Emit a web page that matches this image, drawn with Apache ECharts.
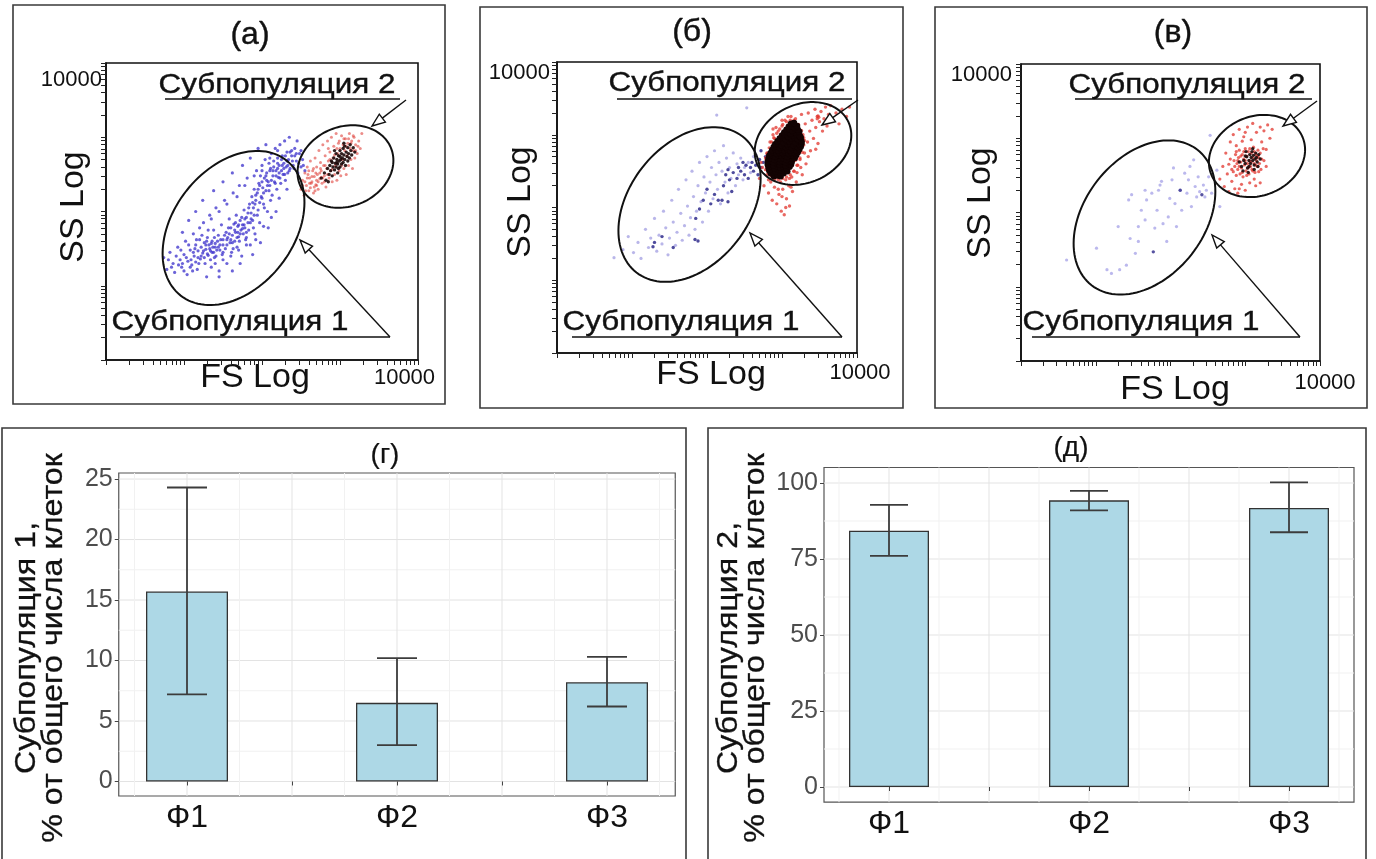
<!DOCTYPE html>
<html>
<head>
<meta charset="utf-8">
<title>Субпопуляции клеток</title>
<script src="https://cdn.jsdelivr.net/npm/echarts@6/dist/echarts.min.js"></script>
<style>
  html, body { margin: 0; padding: 0; background: #fff; }
  #chart { width: 1376px; height: 859px; }
</style>
</head>
<body>
<div id="chart"></div>
<script>
// ---------- Flow cytometry dot plots: log10(FS) vs log10(SS), four decades ----------
const scatterTitles = ['(а)', '(б)', '(в)'];
const decadeTopLabel = '10000';
const gateNames = ['Субпопуляция 1', 'Субпопуляция 2'];

// (а) events
const blueA = [
[0.74,1.38],[0.78,1.22],[0.82,1.45],[0.86,1.30],[0.88,1.18],[0.92,1.52],[0.95,1.35],[0.97,1.25],[1.00,1.42],[1.02,1.60],
[1.04,1.15],[1.05,1.33],[1.08,1.48],[1.10,1.28],[1.12,1.70],[1.13,1.40],[1.15,1.55],[1.17,1.22],[1.18,1.47],[1.20,1.62],
[1.21,1.36],[1.22,1.52],[1.24,1.44],[1.25,1.85],[1.26,1.58],[1.27,1.30],[1.28,1.49],[1.29,1.12],[1.30,1.65],[1.31,1.41],
[1.32,1.55],[1.33,1.95],[1.34,1.47],[1.35,1.25],[1.36,1.60],[1.37,1.52],[1.38,1.75],[1.39,1.38],[1.40,1.57],[1.41,2.05],
[1.42,1.48],[1.44,1.68],[1.45,1.20],[1.46,1.55],[1.48,1.82],[1.49,1.42],[1.50,1.62],[1.52,2.15],[1.53,1.50],[1.54,1.72],
[1.55,1.30],[1.56,1.65],[1.58,1.90],[1.59,1.58],[1.60,1.78],[1.61,1.45],[1.62,1.68],[1.63,2.25],[1.64,1.83],[1.65,1.60],
[1.66,1.72],[1.67,1.95],[1.68,1.52],[1.69,1.80],[1.70,1.66],[1.71,2.35],[1.72,1.88],[1.73,1.75],[1.74,1.40],[1.75,1.82],
[1.76,1.70],[1.77,2.02],[1.78,1.78],[1.79,1.62],[1.80,1.92],[1.81,2.45],[1.82,1.85],[1.83,1.75],[1.84,2.10],[1.85,1.55],
[1.86,1.98],[1.87,2.20],[1.88,1.88],[1.89,2.05],[1.90,2.30],[1.91,1.70],[1.92,2.15],[1.93,2.55],[1.94,2.25],[1.95,2.02],
[1.96,2.38],[1.97,1.85],[1.98,2.48],[1.99,2.20],[2.00,2.62],[2.01,2.32],[2.02,2.10],[2.03,2.45],[2.04,2.70],[2.05,2.28],
[2.06,2.52],[2.07,2.00],[2.08,2.40],[2.09,2.65],[2.10,2.35],[2.11,2.58],[2.12,2.78],[2.13,2.22],[2.14,2.48],[2.15,2.68],
[2.16,2.40],[2.17,2.85],[2.18,2.55],[2.19,2.30],[2.20,2.72],[2.21,2.46],[2.22,2.62],[2.23,2.90],[2.24,2.38],[2.25,2.55],
[2.26,2.75],[2.27,2.50],[2.28,2.65],[2.29,2.95],[2.30,2.42],[2.31,2.60],[2.32,2.80],[2.33,2.52],[2.34,2.70],[2.36,2.58],
[2.38,2.75],[2.40,2.62],[2.42,2.85],[2.44,2.68],[2.46,2.52],[2.48,2.78],[2.50,2.60],[2.52,2.70],[2.45,2.95],[2.35,3.00],
[2.55,2.55],[1.45,1.12],[1.62,1.20],[1.72,1.30],[1.88,1.42],[1.98,1.58],[2.08,1.78],[2.18,2.00],[0.98,1.72],[1.06,1.88],
[1.15,2.00],[1.24,2.15],[1.38,2.28],[1.50,2.40],[1.62,2.52],[1.75,2.62],[1.85,2.72],[1.95,2.85],[2.05,2.90],
[1.22,1.40],[1.25,1.47],[1.28,1.55],[1.30,1.43],[1.33,1.50],[1.35,1.57],[1.38,1.45],[1.40,1.52],[1.43,1.60],[1.46,1.48],
[1.50,1.55],[1.55,1.62],[1.58,1.70],[1.62,1.58],[1.65,1.75],[1.68,1.65],[1.70,1.82],[1.72,1.70],[1.75,1.77],[1.78,1.90],
[1.80,1.72],[1.82,1.98],[1.85,1.85],[1.88,2.12],[1.90,1.95],[1.92,2.22],[1.95,2.30],[1.97,2.12],[2.00,2.40],[2.02,2.25],
[2.05,2.48],[2.07,2.35],[2.10,2.55],[2.12,2.42],[2.15,2.60],[2.18,2.48],[2.20,2.65],[2.22,2.52],[2.25,2.70],[2.28,2.58],
[2.30,2.75],[2.33,2.62],[2.36,2.80],[2.39,2.68],[2.42,2.75],[1.15,1.32],[1.18,1.38],[1.08,1.25],[1.12,1.45],[0.98,1.30],
[0.80,1.35],[0.84,1.25],[0.90,1.40],[0.93,1.28],[0.96,1.48],[1.00,1.20],[1.03,1.38],[1.06,1.55],[1.09,1.35],[1.11,1.20],
[1.14,1.50],[1.16,1.62],[1.19,1.30],[1.23,1.68],[1.26,1.38],[1.29,1.60],[1.31,1.75],[1.34,1.35],[1.36,1.45],[1.39,1.65],
[1.41,1.40],[1.44,1.52],[1.47,1.62],[1.50,1.45],[1.52,1.68],[1.55,1.55],[1.57,1.78],[1.60,1.62],[1.63,1.50],[1.66,1.85],
[1.69,1.72],[1.71,1.60],[1.74,1.92],[1.77,1.82],[1.80,1.65],[1.83,2.05],[1.86,1.90],[1.89,1.78],[1.91,2.10],[1.94,1.95],
[1.97,2.35],[2.00,2.18],[2.03,2.05],[2.06,2.42],[2.09,2.28],[2.11,2.15],[2.14,2.55],[2.17,2.38],[2.20,2.58],[2.23,2.45],
[2.26,2.62],[2.29,2.50],[2.32,2.68],[2.35,2.55],[2.38,2.82],[2.41,2.58],[2.44,2.78],[2.47,2.65],[2.50,2.82],[2.53,2.62],
[1.20,1.78],[1.35,1.90],[1.45,2.00],[1.55,2.10],[1.68,2.20],[1.78,2.35],[1.90,2.48],[2.00,2.55],[2.10,2.72],[2.20,2.82],
[1.40,1.30],[1.50,1.35],[1.60,1.40],[1.70,1.48],[1.80,1.55],[1.92,1.62],[2.02,1.80],[2.12,1.92],[2.22,2.18],[2.32,2.30]
];
const redA = [
[2.50,2.30],[2.52,2.42],[2.54,2.22],[2.55,2.52],[2.57,2.35],[2.58,2.60],[2.60,2.28],[2.61,2.45],[2.62,2.68],[2.63,2.38],
[2.65,2.55],[2.66,2.25],[2.67,2.47],[2.68,2.72],[2.69,2.36],[2.70,2.60],[2.71,2.50],[2.72,2.30],[2.73,2.82],[2.74,2.44],
[2.75,2.66],[2.76,2.55],[2.77,2.38],[2.78,2.90],[2.79,2.62],[2.80,2.48],[2.81,2.75],[2.82,2.33],[2.83,2.58],[2.84,2.95],
[2.85,2.68],[2.86,2.45],[2.87,2.80],[2.88,2.55],[2.89,3.00],[2.90,2.40],[2.91,2.72],[2.92,2.88],[2.93,2.50],[2.94,2.62],
[2.95,3.05],[2.96,2.42],[2.97,2.78],[2.98,2.92],[2.99,2.55],[3.00,2.85],[3.01,2.48],[3.02,3.02],[3.03,2.70],[3.04,2.90],
[3.05,2.58],[3.06,2.82],[3.07,2.98],[3.08,2.50],[3.09,2.75],[3.10,2.92],[3.11,2.62],[3.12,3.05],[3.13,2.85],[3.14,2.70],
[3.15,2.95],[3.16,2.58],[3.17,2.82],[3.18,3.00],[3.19,2.72],[3.20,2.90],[3.22,2.78],[3.24,2.95],[3.26,2.85],[3.28,3.05],
[2.58,2.45],[2.64,2.40],[2.70,2.42],[2.66,2.58],[2.74,2.52],[2.62,2.32],[2.68,2.28],[2.76,2.46],
[2.52,2.35],[2.56,2.28],[2.59,2.50],[2.61,2.38],[2.64,2.47],[2.67,2.33],[2.69,2.52],[2.72,2.40],[2.75,2.58],[2.78,2.45],
[2.81,2.62],[2.84,2.50],[2.87,2.70],[2.90,2.57],[2.93,2.76],[2.96,2.85],[2.99,2.95],[3.02,2.62],[3.05,2.98],[3.08,2.88],
[3.11,2.98],[3.14,2.92],[3.17,3.02],[3.20,2.82],[3.23,2.88],[2.55,2.40],[2.60,2.55],[2.70,2.35],[2.80,2.40],[2.85,2.85]
];
const blackA = [
[2.76,2.45],[2.80,2.52],[2.82,2.42],[2.84,2.58],[2.86,2.50],[2.87,2.62],[2.88,2.55],[2.89,2.68],[2.90,2.48],[2.91,2.60],
[2.92,2.72],[2.93,2.56],[2.94,2.65],[2.95,2.78],[2.95,2.60],[2.96,2.70],[2.97,2.52],[2.97,2.64],[2.98,2.75],[2.99,2.68],
[3.00,2.60],[3.00,2.82],[3.01,2.70],[3.02,2.64],[3.02,2.78],[3.03,2.72],[3.04,2.85],[3.04,2.66],[3.05,2.76],[3.06,2.70],
[3.06,2.88],[3.07,2.62],[3.08,2.80],[3.09,2.74],[3.10,2.68],[3.10,2.86],[3.11,2.78],[3.12,2.72],[3.13,2.90],[3.14,2.82],
[3.15,2.76],[3.17,2.86],[3.19,2.80],[2.85,2.40],[2.90,2.66],[2.98,2.58],[3.05,2.92],[2.93,2.82],[3.00,2.74],[2.96,2.66]
];

// (б) events
const paleB = [
[0.76,1.31],[0.88,1.42],[0.95,1.60],[1.02,1.38],[1.08,1.52],[1.12,1.30],[1.18,1.70],[1.22,1.45],[1.25,1.58],[1.30,1.85],
[1.33,1.40],[1.36,1.62],[1.40,1.50],[1.42,1.95],[1.45,1.72],[1.48,1.35],[1.50,1.58],[1.53,2.10],[1.55,1.80],[1.58,1.48],
[1.60,1.66],[1.62,2.25],[1.65,1.92],[1.67,1.55],[1.70,1.75],[1.72,2.38],[1.74,2.02],[1.76,1.62],[1.78,1.86],[1.80,2.50],
[1.82,2.15],[1.84,1.70],[1.86,1.95],[1.88,2.30],[1.90,2.62],[1.92,2.08],[1.94,1.80],[1.96,2.42],[1.98,2.20],[2.00,2.70],
[2.02,1.95],[2.04,2.35],[2.06,2.55],[2.08,2.12],[2.10,2.78],[2.12,2.45],[2.14,2.25],[2.16,2.62],[2.18,2.05],[2.20,2.50],
[2.22,2.85],[2.24,2.35],[2.26,2.68],[2.28,2.20],[2.30,2.55],[2.32,2.40],[2.35,2.75],[2.38,2.30],[2.40,2.60],[2.42,2.45],
[2.45,2.68],[2.48,2.38],[2.50,2.55],[2.55,2.62],[2.58,2.48],[2.62,2.70],[2.13,3.27],[2.53,3.37]
];
const darkB = [
[1.28,1.46],[1.40,1.60],[1.30,1.52],[1.55,1.45],[1.84,1.56],[1.88,1.54],[1.85,1.85],[1.90,1.98],[1.95,2.10],[2.00,2.25],
[2.05,2.05],[2.10,2.18],[2.15,2.10],[2.20,2.10],[2.28,2.08],[2.22,2.30],[2.25,2.45],[2.28,2.52],[2.30,2.38],[2.33,2.22],
[2.35,2.48],[2.40,2.40],[2.42,2.55],[2.45,2.50],[2.48,2.62],[2.50,2.45],[2.52,2.58],[2.55,2.40],[2.58,2.55],[2.60,2.62],
[2.62,2.50],[2.65,2.58],[2.68,2.45],[2.70,2.66],[2.72,2.55],[2.75,2.62],[2.78,2.70],[2.80,2.52],[2.82,2.75],[2.85,2.60],
[2.72,2.78],[2.65,2.72]
];
const redB = [
[2.70,2.40],[2.74,2.55],[2.76,2.30],[2.78,2.68],[2.80,2.45],[2.82,2.20],[2.83,2.60],[2.85,2.35],[2.86,2.80],[2.87,2.10],
[2.88,2.50],[2.90,2.95],[2.90,2.28],[2.92,2.65],[2.93,2.05],[2.94,2.42],[2.95,3.05],[2.96,2.18],[2.97,2.88],[2.98,2.35],
[2.99,1.95],[3.00,3.12],[3.01,2.25],[3.02,2.48],[3.03,1.90],[3.04,3.20],[3.05,2.38],[3.06,2.12],[3.08,3.25],[3.09,2.30],
[3.10,2.02],[3.12,3.15],[3.13,2.42],[3.14,2.22],[3.15,3.05],[3.16,2.50],[3.18,3.22],[3.19,2.35],[3.20,2.95],[3.21,2.58],
[3.22,3.10],[3.24,2.68],[3.25,2.85],[3.26,3.28],[3.27,2.45],[3.28,3.00],[3.30,2.75],[3.31,3.15],[3.32,2.60],[3.34,2.90],
[3.35,3.30],[3.37,3.05],[3.38,2.78],[3.40,3.20],[3.42,2.95],[3.44,3.35],[3.45,3.10],[3.47,3.25],[3.48,2.88],[3.50,3.18],
[3.52,3.32],[3.54,3.05],[3.56,3.22],[3.58,3.38],[3.60,3.12],[3.62,3.28],[3.65,3.40],[3.68,3.20],[3.72,3.30],[3.76,3.15],
[3.80,3.35],[3.86,3.25],[3.90,3.38],[2.72,2.62],[2.80,2.75],[2.84,2.90],[2.88,3.00],[2.92,3.10],[3.00,2.15],[3.05,2.00],
[2.95,2.25],[3.10,2.40],[3.20,2.48],[3.25,2.55],[3.35,2.70],[3.45,2.80],[2.78,2.52],[2.82,2.38],[2.86,2.58],[3.12,2.28],
[3.18,2.65],[3.30,2.92],[3.47,3.22],[3.49,3.24],[3.48,3.26],
[2.80,2.58],[2.79,2.66],[2.80,2.74],[2.83,2.82],[2.86,2.90],[2.89,2.96],[2.93,3.02],[2.97,3.08],[3.01,3.14],[3.06,3.18],
[3.11,3.20],[3.16,3.20],[3.22,3.14],[3.26,3.06],[3.29,2.96],[3.29,2.86],[3.27,2.76],[3.24,2.66],[3.20,2.58],[3.16,2.50],
[3.11,2.45],[3.06,2.42],[3.01,2.40],[2.95,2.38],[2.90,2.39],[2.85,2.44],[2.82,2.50],[3.12,3.25],[3.00,3.20],[2.88,3.08]
];
const blackB = [
[2.89,2.43],[2.94,2.44],[2.98,2.43],
[2.85,2.47],[2.89,2.48],[2.94,2.46],[2.98,2.48],[3.02,2.47],
[2.83,2.51],[2.87,2.52],[2.91,2.50],[2.95,2.52],[3.00,2.51],[3.04,2.52],[3.07,2.50],
[2.82,2.55],[2.86,2.56],[2.90,2.54],[2.94,2.56],[2.98,2.55],[3.02,2.56],[3.06,2.54],[3.10,2.56],
[2.81,2.59],[2.85,2.60],[2.89,2.58],[2.93,2.60],[2.97,2.59],[3.01,2.60],[3.05,2.58],[3.09,2.60],[3.12,2.59],
[2.81,2.63],[2.85,2.64],[2.89,2.62],[2.93,2.64],[2.97,2.63],[3.01,2.64],[3.05,2.62],[3.09,2.64],[3.13,2.63],
[2.82,2.67],[2.86,2.68],[2.90,2.66],[2.94,2.68],[2.98,2.67],[3.02,2.68],[3.06,2.66],[3.10,2.68],[3.14,2.67],[3.17,2.68],
[2.83,2.71],[2.87,2.72],[2.91,2.70],[2.95,2.72],[2.99,2.71],[3.03,2.72],[3.07,2.70],[3.11,2.72],[3.15,2.71],[3.19,2.72],
[2.85,2.75],[2.89,2.76],[2.93,2.74],[2.97,2.76],[3.01,2.75],[3.05,2.76],[3.09,2.74],[3.13,2.76],[3.17,2.75],[3.21,2.76],
[2.87,2.79],[2.91,2.80],[2.95,2.78],[2.99,2.80],[3.03,2.79],[3.07,2.80],[3.11,2.78],[3.15,2.80],[3.19,2.79],[3.23,2.80],
[2.89,2.83],[2.93,2.84],[2.97,2.82],[3.01,2.84],[3.05,2.83],[3.09,2.84],[3.13,2.82],[3.17,2.84],[3.21,2.83],[3.25,2.84],
[2.91,2.87],[2.95,2.88],[2.99,2.86],[3.03,2.88],[3.07,2.87],[3.11,2.88],[3.15,2.86],[3.19,2.88],[3.23,2.87],[3.26,2.88],
[2.94,2.91],[2.98,2.92],[3.02,2.90],[3.06,2.92],[3.10,2.91],[3.14,2.92],[3.18,2.90],[3.22,2.92],[3.26,2.91],
[2.97,2.95],[3.01,2.96],[3.05,2.94],[3.09,2.96],[3.13,2.95],[3.17,2.96],[3.21,2.94],[3.25,2.96],
[3.00,2.99],[3.04,3.00],[3.08,2.98],[3.12,3.00],[3.16,2.99],[3.20,3.00],[3.24,2.98],
[3.03,3.03],[3.07,3.04],[3.11,3.02],[3.15,3.04],[3.19,3.03],[3.23,3.04],
[3.06,3.07],[3.10,3.08],[3.14,3.06],[3.18,3.08],[3.21,3.07],
[3.09,3.11],[3.13,3.12],[3.17,3.10],[3.20,3.12],
[3.12,3.15],[3.16,3.16]
];

// (в) events
const paleC = [
[0.61,1.36],[1.01,1.52],[1.15,1.23],[1.21,1.18],[1.32,1.23],[1.41,1.29],[1.46,1.65],[1.53,1.45],[1.57,1.81],[1.66,1.90],
[1.68,2.17],[1.79,1.79],[1.82,2.03],[1.84,2.30],[1.86,2.37],[1.95,1.61],[1.97,1.94],[1.99,2.19],[2.02,2.44],[2.06,2.12],
[2.08,1.81],[2.13,2.30],[2.15,2.03],[2.19,2.53],[2.22,2.26],[2.24,2.44],[2.28,2.08],[2.31,2.71],[2.33,2.35],[2.35,2.21],
[2.37,2.48],[2.39,2.28],[2.44,2.37],[2.46,2.21],[2.48,2.30],[2.51,2.48],[2.53,3.04],[2.62,2.57],[2.66,2.08],[2.55,2.26],
[2.26,2.62],[2.04,2.60],[1.88,2.42],[1.44,2.17],[1.48,2.24],[1.61,2.03],[1.75,2.26],[1.90,1.85],[1.57,1.61],[1.30,1.81],
[1.66,2.30]
];
const darkC = [[1.77,1.47],[2.42,2.24],[2.13,2.30]];
const redC = [
[2.66,2.45],[2.70,2.62],[2.72,2.35],[2.74,2.80],[2.76,2.52],[2.78,2.28],[2.80,2.95],[2.82,2.42],[2.84,3.05],[2.86,2.32],
[2.88,2.90],[2.90,2.26],[2.92,3.12],[2.95,2.38],[2.98,3.02],[3.00,2.30],[3.03,3.15],[3.06,2.40],[3.08,2.98],[3.10,3.20],
[3.12,2.45],[3.15,3.08],[3.18,2.55],[3.20,3.15],[3.22,2.95],[3.25,3.10],[3.28,2.85],[3.30,3.18],[3.33,3.00],[3.36,3.12],
[2.78,2.65],[2.80,2.72],[2.82,2.58],[3.25,2.70],[3.28,2.62],[3.20,2.40],[2.92,2.32],[3.00,3.08],[3.14,2.36],[2.96,2.96],
[2.84,2.55],[2.85,2.70],[2.86,2.62],[2.87,2.78],[2.88,2.50],[2.89,2.66],[2.90,2.58],[2.91,2.74],[2.92,2.84],[2.93,2.52],
[2.94,2.68],[2.95,2.60],[2.96,2.78],[2.97,2.48],[2.98,2.72],[2.99,2.64],[3.00,2.86],[3.01,2.56],[3.02,2.76],[3.03,2.66],
[3.04,2.82],[3.05,2.52],[3.06,2.70],[3.07,2.62],[3.08,2.80],[3.09,2.58],[3.10,2.74],[3.11,2.88],[3.12,2.66],[3.13,2.54],
[3.14,2.78],[3.15,2.70],[3.16,2.62],[3.17,2.84],[3.18,2.74],[3.19,2.66],[3.20,2.80],[3.21,2.58],[3.22,2.72],[3.24,2.86],
[2.88,2.82],[2.92,2.62],[2.96,2.54],[3.00,2.70],[3.04,2.60],[3.08,2.68],[3.12,2.82],[3.16,2.76],[2.94,2.76],[3.02,2.50],
[2.90,2.70],[3.06,2.86],[3.10,2.56],[2.98,2.82],[3.14,2.64]
];
const blackC = [
[2.95,2.62],[2.98,2.70],[3.00,2.66],[3.02,2.75],[3.03,2.60],[3.05,2.70],[3.06,2.78],[3.07,2.66],[3.08,2.74],[3.09,2.82],
[3.10,2.70],[3.11,2.77],[3.12,2.64],[3.13,2.72],[3.14,2.80],[3.15,2.74],[3.16,2.68],[3.18,2.78],[3.20,2.72],[2.97,2.56],
[3.01,2.82],[3.04,2.54],[3.10,2.86],[3.17,2.62],[2.92,2.68],[3.05,2.62],[3.12,2.58],[3.00,2.76]
];

// Gates: [log FS centre, log SS centre, semi-major (decades), semi-minor (decades), tilt in degrees]
const gatesA = [[1.635, 1.778, 1.10, 0.77, 52], [3.07, 2.606, 0.63, 0.51, 22]];
const gatesB = [[1.767, 2.041, 1.15, 0.80, 52], [3.28, 2.88, 0.67, 0.52, 26]];
const gatesC = [[1.652, 1.933, 1.15, 0.80, 52], [3.157, 2.761, 0.66, 0.53, 22]];

// ---------- Bar charts: share of each subpopulation ----------
const barTitles = ['(г)', '(д)'];
const categories = ['Ф1', 'Ф2', 'Ф3'];
const sub1Mean = [15.7, 6.5, 8.2];
const sub1Low  = [7.2, 3.0, 6.2];
const sub1High = [24.3, 10.2, 10.3];
const sub2Mean = [84.3, 94.3, 91.8];
const sub2Low  = [76.0, 91.0, 83.8];
const sub2High = [92.8, 97.4, 100.2];
const sub1Ticks = [0, 5, 10, 15, 20, 25];
const sub2Ticks = [0, 25, 50, 75, 100];
const sub1AxisName = 'Субпопуляция 1,\n% от общего числа клеток';
const sub2AxisName = 'Субпопуляция 2,\n% от общего числа клеток';

// ---------- layout ----------
const FONT = '"Liberation Sans", Arial, Helvetica, sans-serif';
const INK = '#111';

const scatterLayout = [
  { grid: { left: 106, top: 63, width: 312, height: 297 }, frame: [13, 5, 432, 399], title: [250, 35],
    yLabPad: [6, 0, 0, 0], yLabMargin: 4, xLabPad: [0, 27, 0, 0], xLabMargin: 7,
    ssGap: 15, ssPad: [0, 0, 0, 9], fsGap: 1, fsPad: [0, 14, 0, 0],
    sub2: { text: [277, 85], line: [165, 99, 400, 99], arrow: [406, 100, 372, 126] },
    sub1: { text: [230, 322], line: [120, 337, 390, 337], arrow: [390, 337, 300, 240] } },
  { grid: { left: 557, top: 62, width: 300, height: 291 }, frame: [480, 7, 423, 401], title: [692, 32],
    yLabPad: [0, 0, 0, 0], yLabMargin: 7, xLabPad: [0, 0, 0, 6], xLabMargin: 9,
    ssGap: 19, ssPad: [0, 0, 0, 11], fsGap: 5, fsPad: [0, 0, 0, 8],
    sub2: { text: [727, 83], line: [617, 99, 852, 99], arrow: [858, 100, 822, 125] },
    sub1: { text: [681, 322], line: [572, 337, 842, 337], arrow: [842, 337, 750, 233] } },
  { grid: { left: 1021, top: 64, width: 299, height: 297 }, frame: [935, 7, 432, 401], title: [1173, 33],
    yLabPad: [0, 0, 0, 0], yLabMargin: 9, xLabPad: [0, 0, 0, 10], xLabMargin: 11,
    ssGap: 23, ssPad: [0, 0, 0, 19], fsGap: 12, fsPad: [0, 0, 0, 9],
    sub2: { text: [1187, 85], line: [1075, 99, 1312, 99], arrow: [1317, 101, 1283, 126] },
    sub1: { text: [1141, 322], line: [1032, 337, 1300, 337], arrow: [1300, 337, 1212, 235] } }
];

const barLayout = [
  { grid: { left: 118.75, top: 473, width: 556.5, height: 323 }, yMin: -1.2, yMax: 25.5,
    frame: [2, 428, 684, 460], title: [385, 455], yTitle: [40, 648], barWidth: 82, cap: 40 },
  { grid: { left: 824, top: 467.5, width: 530, height: 334.7 }, yMin: -5, yMax: 105.1,
    frame: [708, 428, 658, 460], title: [1071, 448], yTitle: [742, 648], barWidth: 80, cap: 38 }
];

// log-decade tick positions (1..9 x 10^d)
const logTicks = [];
for (let d = 0; d < 4; d++) for (let k = 1; k < 10; k++) logTicks.push(d + Math.log10(k));
logTicks.push(4);

// ---------- renderers ----------
function renderGate(params, api) {
  const c = api.coord([api.value(0), api.value(1)]);
  const s = api.size([1, 1]);
  const rx = api.value(2) * s[0], ry = api.value(3) * s[0];
  const th = api.value(4) * Math.PI / 180;
  const pts = [];
  for (let i = 0; i < 120; i++) {
    const t = i / 120 * 2 * Math.PI;
    const ex = rx * Math.cos(t), ey = ry * Math.sin(t);
    pts.push([c[0] + ex * Math.cos(th) - ey * Math.sin(th), c[1] - (ex * Math.sin(th) + ey * Math.cos(th))]);
  }
  return { type: 'polygon', shape: { points: pts }, style: { fill: 'none', stroke: INK, lineWidth: 2 } };
}

function renderHLine(params, api) {
  const cs = params.coordSys;
  const y = api.coord([1, api.value(0)])[1];
  return { type: 'line', shape: { x1: cs.x, y1: y, x2: cs.x + cs.width, y2: y },
           style: { stroke: api.value(1) ? '#e3e3e3' : '#f1f1f1', lineWidth: 1 } };
}
function renderVLine(params, api) {
  const cs = params.coordSys;
  const x = api.coord([api.value(0), 0])[0];
  return { type: 'line', shape: { x1: x, y1: cs.y, x2: x, y2: cs.y + cs.height },
           style: { stroke: api.value(1) ? '#e3e3e3' : '#f1f1f1', lineWidth: 1 } };
}
function errorBarRenderer(capPx) {
  return function (params, api) {
    const x = api.value(0);
    const lo = api.coord([x, api.value(1)]), hi = api.coord([x, api.value(2)]);
    const h = capPx / 2;
    const st = { stroke: '#3c3c3c', lineWidth: 1.8 };
    return { type: 'group', children: [
      { type: 'line', shape: { x1: lo[0], y1: lo[1], x2: hi[0], y2: hi[1] }, style: st },
      { type: 'line', shape: { x1: lo[0] - h, y1: lo[1], x2: lo[0] + h, y2: lo[1] }, style: st },
      { type: 'line', shape: { x1: hi[0] - h, y1: hi[1], x2: hi[0] + h, y2: hi[1] }, style: st }
    ] };
  };
}

// ---------- assemble ----------
const grids = [], xAxes = [], yAxes = [], series = [], elements = [];

function textEl(str, x, y, size, opts) {
  opts = opts || {};
  const el = { type: 'text', x: x, y: y, z: 100, scaleX: opts.scaleX || 1,
    style: { text: str, fontSize: size, fontFamily: FONT, fill: INK,
             stroke: INK, lineWidth: opts.bold || 0.4,
             align: 'center', verticalAlign: 'middle', textAlign: 'center', textVerticalAlign: 'middle' } };
  if (opts.rotation) el.rotation = opts.rotation;
  if (opts.lineHeight) el.style.lineHeight = opts.lineHeight;
  return el;
}
function lineEl(x1, y1, x2, y2, w) {
  return { type: 'line', z: 100, shape: { x1, y1, x2, y2 }, style: { stroke: INK, lineWidth: w || 1.5 } };
}
function arrowEls(x1, y1, x2, y2) {
  const a = Math.atan2(y2 - y1, x2 - x1), L = 13, W = 5;
  const bx = x2 - L * Math.cos(a), by = y2 - L * Math.sin(a);
  const p1 = [bx + W * Math.sin(a), by - W * Math.cos(a)];
  const p2 = [bx - W * Math.sin(a), by + W * Math.cos(a)];
  return [lineEl(x1, y1, bx, by, 1.4),
    { type: 'polygon', z: 100, shape: { points: [[x2, y2], p1, p2] }, style: { fill: '#fff', stroke: INK, lineWidth: 1.4 } }];
}

const scatterSets = [
  [ { d: blueA, c: '#3a2fcb', o: 0.75, s: 3.2 }, { d: redA, c: '#e0413a', o: 0.6, s: 3 }, { d: blackA, c: '#1c0808', o: 0.9, s: 3.4 } ],
  [ { d: paleB, c: '#a29ee2', o: 0.75, s: 3.2 }, { d: darkB, c: '#2f2b8c', o: 0.85, s: 3.4 }, { d: redB, c: '#e2362e', o: 0.75, s: 3.4 }, { d: blackB, c: '#120303', o: 1, s: 6.5 } ],
  [ { d: paleC, c: '#aaa6e8', o: 0.8, s: 3.2 }, { d: darkC, c: '#3a3590', o: 0.85, s: 3.4 }, { d: redC, c: '#e2362e', o: 0.75, s: 3.2 }, { d: blackC, c: '#1c0808', o: 0.9, s: 3.4 } ]
];
const gateSets = [gatesA, gatesB, gatesC];
const textStyle = (size, color) => ({ fontSize: size, fontFamily: FONT, color: color || INK });

scatterLayout.forEach((L, i) => {
  grids.push(Object.assign({ show: true, borderColor: INK, borderWidth: 1.6, backgroundColor: '#fff' }, L.grid));
  xAxes.push({
    gridIndex: i, type: 'value', min: 0, max: 4,
    axisLine: { show: true, onZero: false, lineStyle: { color: INK, width: 1.6 } },
    axisTick: { show: true, customValues: logTicks, length: 5, lineStyle: { color: '#222', width: 1 } },
    axisLabel: Object.assign({ show: true, customValues: [4], formatter: v => (v === 4 ? decadeTopLabel : ''),
      margin: L.xLabMargin, padding: L.xLabPad }, textStyle(22)),
    splitLine: { show: false },
    name: 'FS Log', nameLocation: 'middle', nameGap: L.fsGap, nameMoveOverlap: false,
    nameTextStyle: Object.assign({ padding: L.fsPad }, textStyle(34))
  });
  yAxes.push({
    gridIndex: i, type: 'value', min: 0, max: 4,
    axisLine: { show: true, onZero: false, lineStyle: { color: INK, width: 1.6 } },
    axisTick: { show: true, customValues: logTicks, length: 5, lineStyle: { color: '#222', width: 1 } },
    axisLabel: Object.assign({ show: true, customValues: [4], formatter: v => (v === 4 ? decadeTopLabel : ''),
      margin: L.yLabMargin, padding: L.yLabPad, verticalAlign: 'top', verticalAlignMaxLabel: 'top' }, textStyle(22)),
    splitLine: { show: false },
    name: 'SS Log', nameLocation: 'middle', nameGap: L.ssGap, nameMoveOverlap: false,
    nameTextStyle: Object.assign({ padding: L.ssPad }, textStyle(34))
  });
  scatterSets[i].forEach(set => series.push({
    type: 'scatter', xAxisIndex: i, yAxisIndex: i, data: set.d, symbol: 'circle', symbolSize: set.s,
    itemStyle: { color: set.c, opacity: set.o }, silent: true, z: 2
  }));
  series.push({ type: 'custom', xAxisIndex: i, yAxisIndex: i, data: gateSets[i], renderItem: renderGate, silent: true, z: 5 });

  elements.push({ type: 'rect', z: 1, shape: { x: L.frame[0], y: L.frame[1], width: L.frame[2], height: L.frame[3] },
    style: { fill: 'none', stroke: '#3a3a3a', lineWidth: 1.6 } });
  elements.push(textEl(scatterTitles[i], L.title[0], L.title[1], 32));
  elements.push(textEl(gateNames[1], L.sub2.text[0], L.sub2.text[1], 28, { scaleX: 1.12 }));
  elements.push(lineEl.apply(null, L.sub2.line));
  elements.push.apply(elements, arrowEls.apply(null, L.sub2.arrow));
  elements.push(textEl(gateNames[0], L.sub1.text[0], L.sub1.text[1], 28, { scaleX: 1.12 }));
  elements.push(lineEl.apply(null, L.sub1.line));
  elements.push.apply(elements, arrowEls.apply(null, L.sub1.arrow));
});

const barSets = [
  { mean: sub1Mean, low: sub1Low, high: sub1High, ticks: sub1Ticks, name: sub1AxisName },
  { mean: sub2Mean, low: sub2Low, high: sub2High, ticks: sub2Ticks, name: sub2AxisName }
];
const xTickPos = [1, 1.5, 2, 2.5, 3];

barLayout.forEach((L, j) => {
  const gi = 3 + j;
  const B = barSets[j];
  grids.push(Object.assign({ show: true, borderColor: '#555', borderWidth: 1.2, backgroundColor: '#fff' }, L.grid));
  xAxes.push({
    gridIndex: gi, type: 'value', min: 0.675, max: 3.325,
    axisLine: { show: false },
    axisTick: { show: true, customValues: xTickPos, length: 4, lineStyle: { color: '#444' } },
    axisLabel: Object.assign({ show: true, customValues: [1, 2, 3], formatter: v => categories[Math.round(v) - 1] || '',
      margin: 6 }, textStyle(32)),
    splitLine: { show: false }
  });
  yAxes.push({
    gridIndex: gi, type: 'value', min: L.yMin, max: L.yMax,
    axisLine: { show: false },
    axisTick: { show: true, customValues: B.ticks, length: 4, lineStyle: { color: '#444' } },
    axisLabel: Object.assign({ show: true, customValues: B.ticks, margin: 6 }, textStyle(25, '#4d4d4d')),
    splitLine: { show: false }
  });
  // background grid
  const hl = [];
  B.ticks.forEach((t, k) => {
    hl.push([t, 1]);
    if (k < B.ticks.length - 1) hl.push([(t + B.ticks[k + 1]) / 2, 0]);
  });
  const vl = [];
  xTickPos.forEach((t, k) => {
    vl.push([t, 1]);
    if (k < xTickPos.length - 1) vl.push([t + 0.25, 0]);
  });
  vl.push([0.75, 0], [3.25, 0]);
  series.push({ type: 'custom', xAxisIndex: gi, yAxisIndex: gi, data: hl, renderItem: renderHLine, silent: true, z: 0 });
  series.push({ type: 'custom', xAxisIndex: gi, yAxisIndex: gi, data: vl, renderItem: renderVLine, silent: true, z: 0 });
  // bars
  series.push({
    type: 'bar', xAxisIndex: gi, yAxisIndex: gi, barWidth: L.barWidth,
    data: B.mean.map((m, k) => [k + 1, m]),
    itemStyle: { color: '#add8e6', borderColor: '#333', borderWidth: 1.3 }, silent: true, z: 2
  });
  // error bars
  series.push({
    type: 'custom', xAxisIndex: gi, yAxisIndex: gi, renderItem: errorBarRenderer(L.cap),
    data: B.mean.map((m, k) => [k + 1, B.low[k], B.high[k]]), silent: true, z: 4
  });
  elements.push({ type: 'rect', z: 1, shape: { x: L.frame[0], y: L.frame[1], width: L.frame[2], height: L.frame[3] },
    style: { fill: 'none', stroke: '#3a3a3a', lineWidth: 1.6 } });
  elements.push(textEl(barTitles[j], L.title[0], L.title[1], 28, { bold: 0.2 }));
  // rotated two-line y-axis title
  elements.push(textEl(B.name, L.yTitle[0], L.yTitle[1], 29,
    { rotation: Math.PI / 2, scaleX: 1.11, lineHeight: 27, bold: 0.3 }));
});

const chart = echarts.init(document.getElementById('chart'), null, { renderer: 'canvas' });
chart.setOption({
  backgroundColor: '#fff',
  animation: false,
  grid: grids,
  xAxis: xAxes,
  yAxis: yAxes,
  series: series,
  graphic: { elements: elements }
});
</script>
</body>
</html>
